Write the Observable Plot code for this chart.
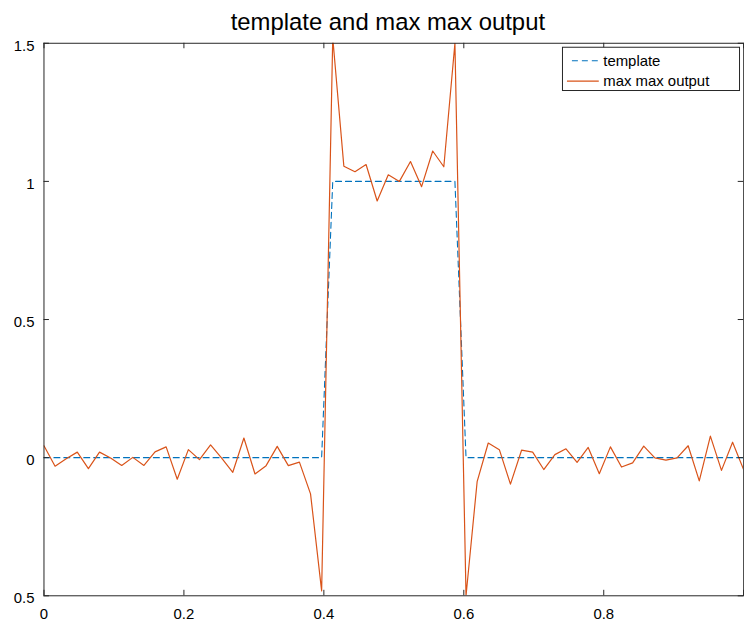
<!DOCTYPE html>
<html>
<head>
<meta charset="utf-8">
<script src="https://cdn.jsdelivr.net/npm/d3@7"></script>
<script src="https://cdn.jsdelivr.net/npm/@observablehq/plot@0.6"></script>
<style>
  html, body { margin: 0; padding: 0; background: #fff; overflow: hidden; }
  #chart svg { display: block; }
</style>
</head>
<body>
<div id="chart"></div>
<script>
// ---- data ----
const titleText = "template and max max output";
const seriesNames = ["template", "max max output"];
const sampleCount = 64;
const templateValues = [
  0,0,0,0,0,0,0,0,0,0,0,0,0,0,0,0,0,0,0,0,0,0,0,0,0,0,
  1,1,1,1,1,1,1,1,1,1,1,1,
  0,0,0,0,0,0,0,0,0,0,0,0,0,0,0,0,0,0,0,0,0,0,0,0,0,0
];
const outputValues = [
  0.043, -0.031, -0.004, 0.020, -0.040, 0.020, -0.001, -0.028, 0.001, -0.028,
  0.021, 0.039, -0.078, 0.029, -0.007, 0.046, -0.002, -0.053, 0.071, -0.059,
  -0.029, 0.041, -0.029, -0.016, -0.131, -0.482, 1.52, 1.055, 1.035, 1.061,
  0.929, 1.024, 1.000, 1.072, 0.981, 1.110, 1.053, 1.50, -0.50, -0.087,
  0.053, 0.029, -0.096, 0.027, 0.020, -0.043, 0.011, 0.032, -0.017, 0.037,
  -0.058, 0.039, -0.034, -0.019, 0.042, -0.001, -0.009, -0.001, 0.043, -0.084,
  0.078, -0.046, 0.056, -0.044
];
const xTicks = [0, 0.2, 0.4, 0.6, 0.8, 1];
const xTickLabelValues = [0, 0.2, 0.4, 0.6, 0.8];
const xTickLabels = ["0", "0.2", "0.4", "0.6", "0.8"];
const yTicks = [-0.5, 0, 0.5, 1, 1.5];
const yTickLabels = ["0.5", "0", "0.5", "1", "1.5"];

// ---- build ----
const t = d3.range(sampleCount).map(i => i / (sampleCount - 1));
const templateData = t.map((x, i) => ({x, y: templateValues[i]}));
const outputData = t.map((x, i) => ({x, y: outputValues[i]}));

const blue = "#0072BD";
const orange = "#D95319";
const axisColor = "#262626";
const font = "'Liberation Sans', Arial, sans-serif";

const W = 748, H = 626;
const mL = 43.7, mR = 0.8, mT = 43, mB = 27.5;
const frameW = W - mL - mR, frameH = H - mT - mB;
const tickLen = 5.5;

const chart = Plot.plot({
  width: W,
  height: H,
  marginLeft: mL,
  marginRight: mR,
  marginTop: mT,
  marginBottom: mB,
  style: {fontFamily: font, background: "#fff", overflow: "hidden"},
  x: {domain: [0, 1], axis: null},
  y: {domain: [-0.5, 1.5], axis: null},
  marks: [
    Plot.line(templateData, {x: "x", y: "y", stroke: blue, strokeWidth: 1.1, strokeDasharray: "6,4", clip: true}),
    Plot.line(outputData, {x: "x", y: "y", stroke: orange, strokeWidth: 1.2, clip: true}),
    Plot.frame({stroke: axisColor, strokeWidth: 1}),
    // inward ticks
    Plot.tickX(xTicks, {x: d => d, insetTop: frameH - tickLen, stroke: axisColor}),
    Plot.tickX(xTicks, {x: d => d, insetBottom: frameH - tickLen, stroke: axisColor}),
    Plot.tickY(yTicks, {y: d => d, insetRight: frameW - tickLen, stroke: axisColor}),
    Plot.tickY(yTicks, {y: d => d, insetLeft: frameW - tickLen, stroke: axisColor}),
    // tick labels
    Plot.text(xTickLabelValues, {x: d => d, text: (d, i) => xTickLabels[i], frameAnchor: "bottom", dy: 18.5, lineAnchor: "middle", textAnchor: "middle", fontSize: 15, fill: "#000"}),
    Plot.text(yTicks, {y: d => d, text: (d, i) => yTickLabels[i], frameAnchor: "left", dx: -9.5, dy: 2.5, lineAnchor: "middle", textAnchor: "end", fontSize: 15, fill: "#000"}),
    // title
    Plot.text([titleText], {text: d => d, frameAnchor: "top", dy: -21, dx: -6, lineAnchor: "middle", fontSize: 24, fill: "#000"})
  ]
});

document.getElementById("chart").appendChild(chart);

// legend (MATLAB-style box, top-right inside axes)
const svg = d3.select(chart);
const lg = svg.append("g").attr("font-family", font).attr("font-size", 15).attr("text-anchor", "start");
lg.append("rect").attr("x", 565.5).attr("y", 47.5).attr("width", 178).attr("height", 43.5)
  .attr("fill", "#fff").attr("stroke", axisColor).attr("stroke-width", 1);
lg.append("line").attr("x1", 575).attr("x2", 602).attr("y1", 61).attr("y2", 61)
  .attr("stroke", blue).attr("stroke-width", 1.1).attr("stroke-dasharray", "6,4");
lg.append("text").attr("x", 606.5).attr("y", 61).attr("dy", "0.35em").attr("text-anchor", "start").attr("fill", "#000").text(seriesNames[0]);
lg.append("line").attr("x1", 570).attr("x2", 602).attr("y1", 81.5).attr("y2", 81.5)
  .attr("stroke", orange).attr("stroke-width", 1.2);
lg.append("text").attr("x", 606.5).attr("y", 81.5).attr("dy", "0.35em").attr("text-anchor", "start").attr("fill", "#000").text(seriesNames[1]);
</script>
</body>
</html>
